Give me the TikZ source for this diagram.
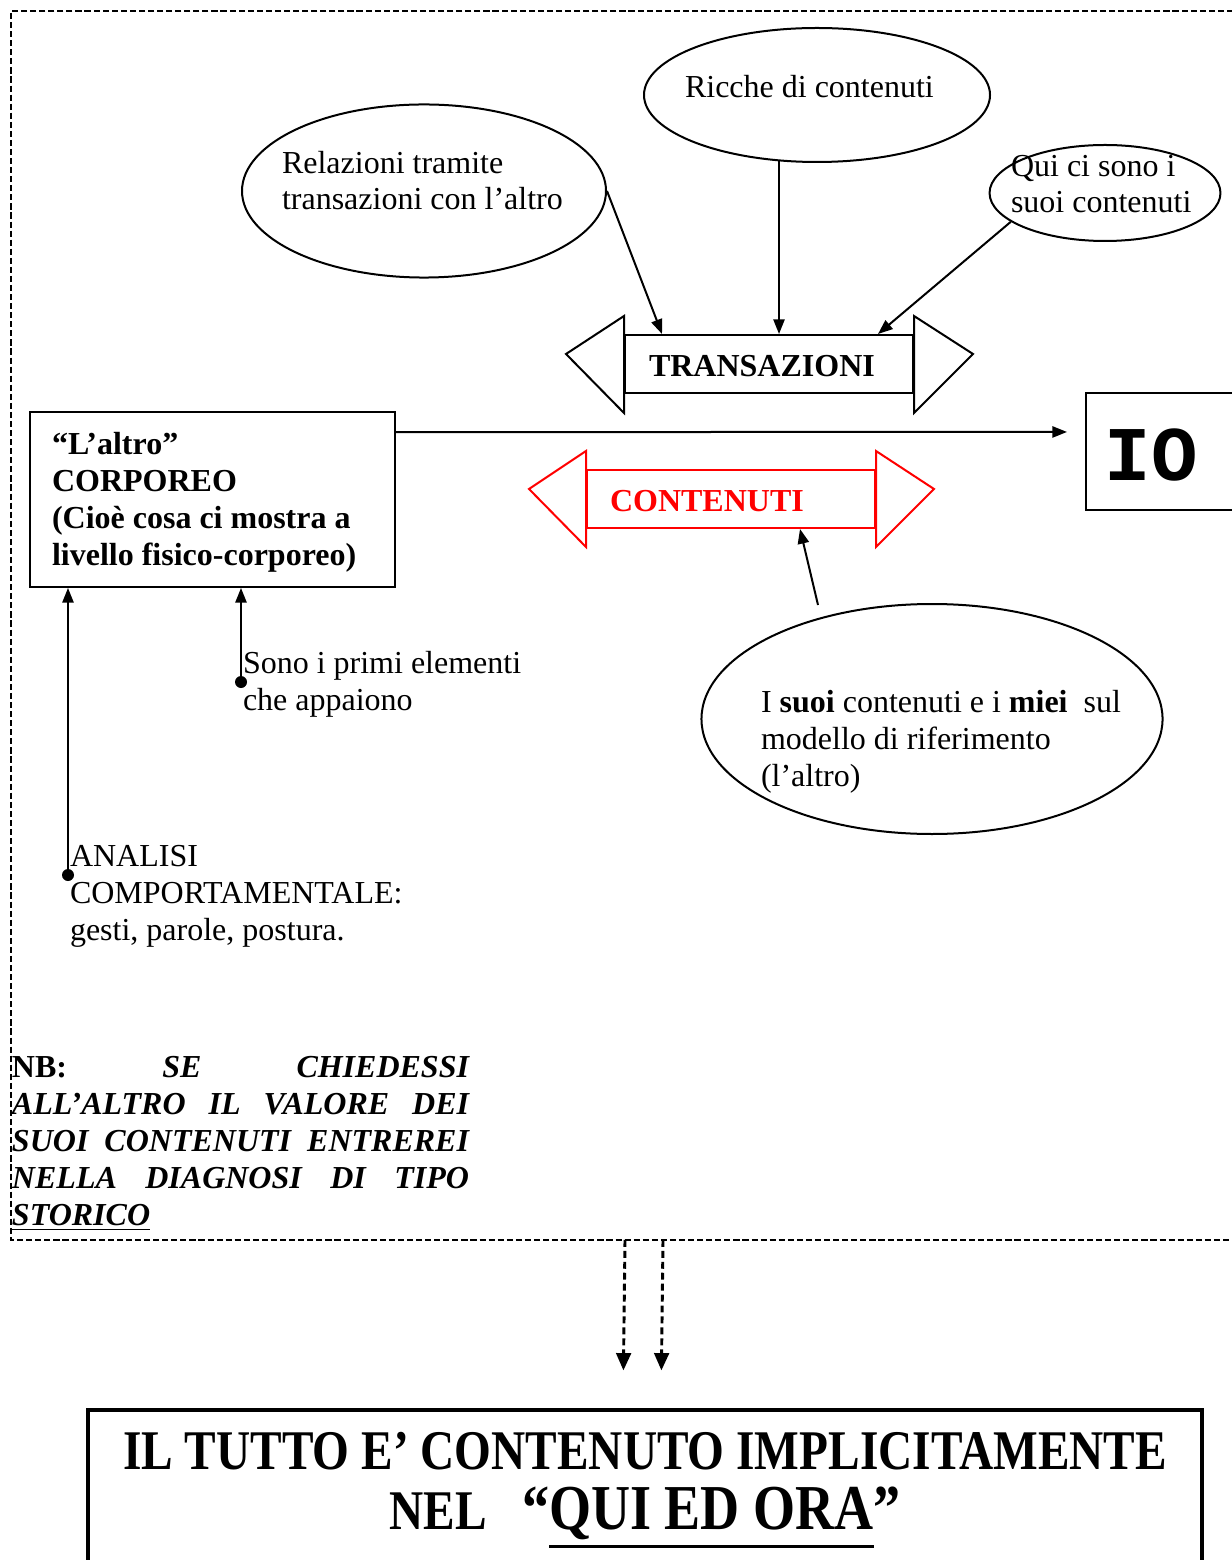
\documentclass[tikz,border=0pt]{standalone}
\usepackage{fontspec}
\setmainfont{Liberation Serif}
\newfontfamily\monoio{Liberation Mono}
\newfontfamily\condfont[FakeStretch=0.845]{Liberation Serif}
\newcommand\thickul[1]{\leavevmode\vtop{\hbox{#1}\kern2pt\hrule height 1.1pt}}
\usetikzlibrary{shapes.geometric,arrows.meta,calc}
\begin{document}
\begin{tikzpicture}[x=0.375pt,y=-0.375pt,line width=0.75pt,
  txt/.style={inner sep=0pt, anchor=base west, align=left, font=\fontsize{12}{13.8}\selectfont},
  btxt/.style={txt, font=\fontsize{12}{13.8}\selectfont\bfseries},
  ell/.style={draw, ellipse, inner sep=0pt},
  arr/.style={-{Triangle[length=5.5pt,width=4.2pt]}},
  box/.style={draw, rectangle, inner sep=0pt},
  dot/.style={circle, fill, inner sep=0pt, minimum size=4.5pt},
  framestyle/.style={dash pattern=on 2.3pt off 1.1pt, line width=0.75pt},
  dasharr/.style={dash pattern=on 2.6pt off 1.5pt, line width=1.1pt, -{Triangle[length=6.5pt,width=5.5pt]}},
  bigtxt/.style={inner sep=0pt, anchor=base, font=\condfont\fontsize{21}{22.5}\selectfont\bfseries}
]
\useasboundingbox (0,0) rectangle (1231,1560);

% dashed frame (open on the right)
\node[inner sep=0pt, minimum width=457.5pt, minimum height=460.1pt, anchor=north west] (F) at (11,11) {};
\draw[framestyle] (F.north east) -- (F.north west) -- (F.south west) -- (F.south east);

% ellipses (text nodes anchored at the baseline of their last line)
\node[ell, minimum width=136.5pt, minimum height=64.9pt] (E1) at (424,191) {};
\node[txt] (t1) at (281,210) {Relazioni tramite\\transazioni con l’altro};
\node[ell, minimum width=129.75pt, minimum height=50.25pt] (E2) at (817,95) {};
\node[txt] (t2) at (684,98) {Ricche di contenuti};
\node[ell, minimum width=86.6pt, minimum height=36pt] (E3) at (1105,193) {};
\node[txt] (t3) at (1010,213) {Qui ci sono i\\suoi contenuti};
\node[ell, minimum width=172.9pt, minimum height=86.25pt] (E4) at (932,719) {};
\node[txt] (t4) at (760,786) {I \textbf{suoi} contenuti e i \textbf{miei}\ \ sul\\modello di riferimento\\(l’altro)};

% TRANSAZIONI double arrow
\node[box, minimum width=108pt, minimum height=21.75pt] (T) at (769,364) {};
\draw ($(T.west)+(0,-48)$) -- ($(T.west)+(-58,-10)$) -- ($(T.west)+(0,49)$) -- cycle;
\draw ($(T.east)+(0,-48)$) -- ($(T.east)+(59,-10)$) -- ($(T.east)+(0,49)$) -- cycle;
\node[btxt] (tt) at (648,377) {TRANSAZIONI};

% CONTENUTI double arrow
\node[box, draw=red, minimum width=108pt, minimum height=21.75pt] (C) at (731,499) {};
\draw[red] ($(C.west)+(0,-48)$) -- ($(C.west)+(-57,-10)$) -- ($(C.west)+(0,48)$) -- cycle;
\draw[red] ($(C.east)+(0,-48)$) -- ($(C.east)+(58,-10)$) -- ($(C.east)+(0,48)$) -- cycle;
\node[btxt, text=red] (tc) at (609,511) {CONTENUTI};

% L'altro box
\node[box, minimum width=136.9pt, minimum height=65.6pt] (L) at (212.5,499.5) {};
\node[btxt] (tl) at (51,565) {“L’altro”\\CORPOREO\\(Cioè cosa ci mostra a\\livello fisico-corporeo)};

% IO box
\node[box, minimum width=61.5pt, minimum height=43.9pt] (IO) at (1168,451.5) {};
\node[inner sep=0pt, font=\monoio\fontsize{29}{30}\selectfont\bfseries] (tio) at (1151,455) {IO};

% connectors
\draw[arr] (E1.east) -- ($(T.north)+(-107,0)$);
\draw[arr] ($(E2.south)+(-38,-2)$) -- ($(T.north)+(10,0)$);
\draw[arr] (E3.197) -- ($(T.north east)+(-36,0)$);
\coordinate (c4) at (818,605);
\draw[arr] (c4) -- ($(C.south)+(69,0)$);
\draw[arr] ($(L.north east)+(0,21)$) -- ($(IO.north west)+(-18,40)$);

% dots and labels below the box
\node[dot] (d1) at (68,875) {};
\node[dot] (d2) at (241,682) {};
\draw[arr] (d1.center) -- (L.south -| d1);
\draw[arr] (d2.center) -- (L.south -| d2);
\node[txt] (t5) at (242,710) {Sono i primi elementi\\che appaiono};
\node[txt] (t6) at (69,940) {ANALISI\\COMPORTAMENTALE:\\gesti, parole, postura.};

% NB paragraph
\node[inner sep=0pt, anchor=base west, align=left, font=\fontsize{12}{13.8}\selectfont\bfseries\itshape] (nb) at (11,1225)
 {\makebox[171.4pt][s]{\upshape NB: \itshape SE CHIEDESSI}\\
  \makebox[171.4pt][s]{ALL’ALTRO IL VALORE DEI}\\
  \makebox[171.4pt][s]{SUOI CONTENUTI ENTREREI}\\
  \makebox[171.4pt][s]{NELLA DIAGNOSI DI TIPO}\\
  \underline{STORICO}};

% bottom box
\node[box, line width=1.2pt, minimum width=417.75pt, minimum height=71.25pt] (B) at (645,1505) {};
\node[bigtxt] (bt1) at (645,1469) {IL TUTTO E’ CONTENUTO IMPLICITAMENTE};
\node[bigtxt] (bt2) at (645,1529) {NEL\ \ \ {\fontsize{24}{26}\selectfont“\thickul{QUI ED ORA}”}};

% dashed arrows
\draw[dasharr] ($(F.south west)+(614,0)$) -- ($(B.north west)+(537,-38)$);
\draw[dasharr] ($(F.south west)+(652,0)$) -- ($(B.north west)+(575,-38)$);
\end{tikzpicture}
\end{document}
